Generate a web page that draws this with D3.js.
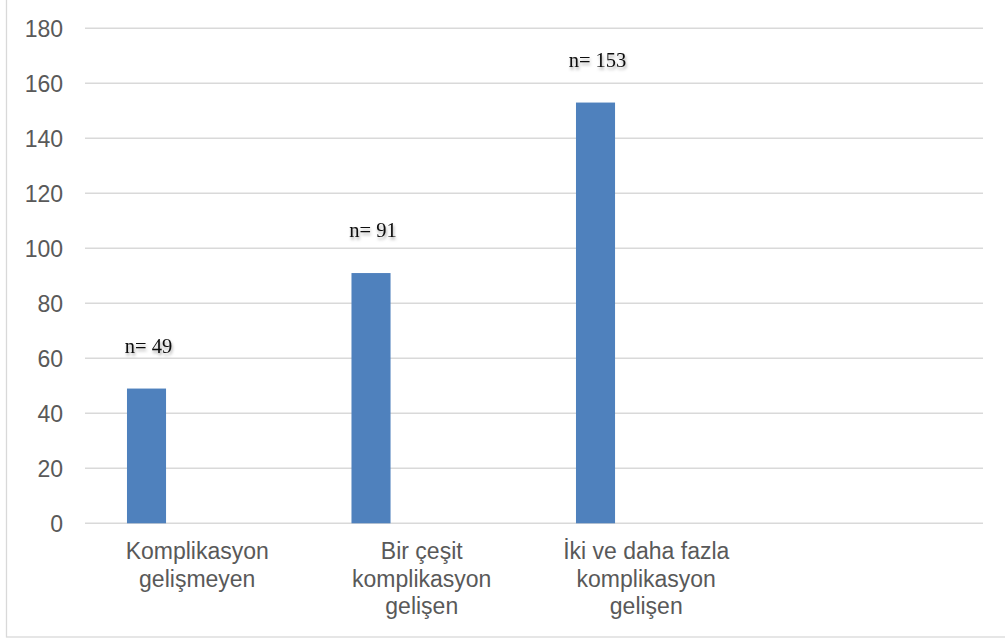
<!DOCTYPE html>
<html>
<head>
<meta charset="utf-8">
<script src="https://cdn.jsdelivr.net/npm/d3@7"></script>
<style>
  html, body { margin: 0; padding: 0; background: #fff; }
  svg { display: block; }
</style>
</head>
<body>
<svg id="chart" width="1005" height="641"></svg>
<script>
// Complication groups and patient counts
const categories = [
  "Komplikasyon gelişmeyen",
  "Bir çeşit komplikasyon gelişen",
  "İki ve daha fazla komplikasyon gelişen",
  ""
];
const counts = [49, 91, 153, null];
const valueLabels = ["n= 49", "n= 91", "n= 153", ""];
const yTicks = [0, 20, 40, 60, 80, 100, 120, 140, 160, 180];

const W = 1005, H = 641;
const plot = { left: 85, right: 983, top: 28.3, bottom: 523.3 };

const svg = d3.select("#chart");

// soft shadow under the value labels
const defs = svg.append("defs");
const f = defs.append("filter").attr("id", "lblShadow")
  .attr("x", "-20%").attr("y", "-40%").attr("width", "140%").attr("height", "200%");
f.append("feDropShadow").attr("dx", 1).attr("dy", 2.5)
  .attr("stdDeviation", 1.8).attr("flood-color", "#000").attr("flood-opacity", 0.35);

// outer frame
svg.append("rect")
  .attr("x", 6.5).attr("y", -2).attr("width", W + 10).attr("height", 639)
  .attr("fill", "#fff").attr("stroke", "#d9d9d9").attr("stroke-width", 1.3);

const x = d3.scaleBand().domain(categories.map((c, i) => i)).range([plot.left, plot.right]).padding(0);
const y = d3.scaleLinear().domain([0, 180]).range([plot.bottom, plot.top]);

// horizontal gridlines
svg.append("g").selectAll("line").data(yTicks).join("line")
  .attr("x1", plot.left).attr("x2", plot.right)
  .attr("y1", d => y(d)).attr("y2", d => y(d))
  .attr("stroke", "#d9d9d9").attr("stroke-width", 1.4);

// y-axis tick labels
const yAxis = d3.axisLeft(y).tickValues(yTicks).tickSize(0).tickPadding(0);
const ya = svg.append("g").attr("transform", "translate(63,0)").call(yAxis);
ya.select(".domain").remove();
ya.selectAll("text")
  .attr("font-family", "Liberation Sans, Arial, sans-serif")
  .attr("font-size", 23).attr("fill", "#595959").attr("dy", "0.35em");

// bars (sit left within each band, as in a clustered layout)
const bw = x.bandwidth();
const barOffset = bw * 0.187, barWidth = bw * 0.174;
const barData = counts.map((v, i) => ({ i, v })).filter(d => d.v != null);

svg.append("g").selectAll("rect").data(barData).join("rect")
  .attr("x", d => x(d.i) + barOffset)
  .attr("width", barWidth)
  .attr("y", d => y(d.v))
  .attr("height", d => y(0) - y(d.v))
  .attr("fill", "#4f81bd");

// value labels above bars
svg.append("g").selectAll("text").data(barData).join("text")
  .attr("x", d => x(d.i) + barOffset + barWidth / 2 + 2)
  .attr("y", d => y(d.v) - 36)
  .attr("text-anchor", "middle")
  .attr("font-family", "Liberation Serif, Times New Roman, serif")
  .attr("font-size", 20.5)
  .attr("fill", "#0d0d0d")
  .attr("filter", "url(#lblShadow)")
  .text(d => valueLabels[d.i]);

// category labels, wrapped to the band width
const catG = svg.append("g").attr("font-family", "Liberation Sans, Arial, sans-serif")
  .attr("font-size", 23).attr("fill", "#595959").attr("text-anchor", "middle");

categories.forEach((c, i) => {
  if (!c) return;
  const t = catG.append("text").attr("x", x(i) + bw / 2).attr("y", plot.bottom + 36);
  const words = c.split(" ");
  let lines = [], cur = [];
  const probe = catG.append("text").attr("visibility", "hidden");
  words.forEach(w => {
    const trial = cur.concat([w]).join(" ");
    probe.text(trial);
    if (cur.length && probe.node().getComputedTextLength() > 180) {
      lines.push(cur.join(" "));
      cur = [w];
    } else {
      cur.push(w);
    }
  });
  if (cur.length) lines.push(cur.join(" "));
  probe.remove();
  lines.forEach((ln, k) => {
    t.append("tspan").attr("x", x(i) + bw / 2).attr("dy", k === 0 ? 0 : 27.5).text(ln);
  });
});
</script>
</body>
</html>
